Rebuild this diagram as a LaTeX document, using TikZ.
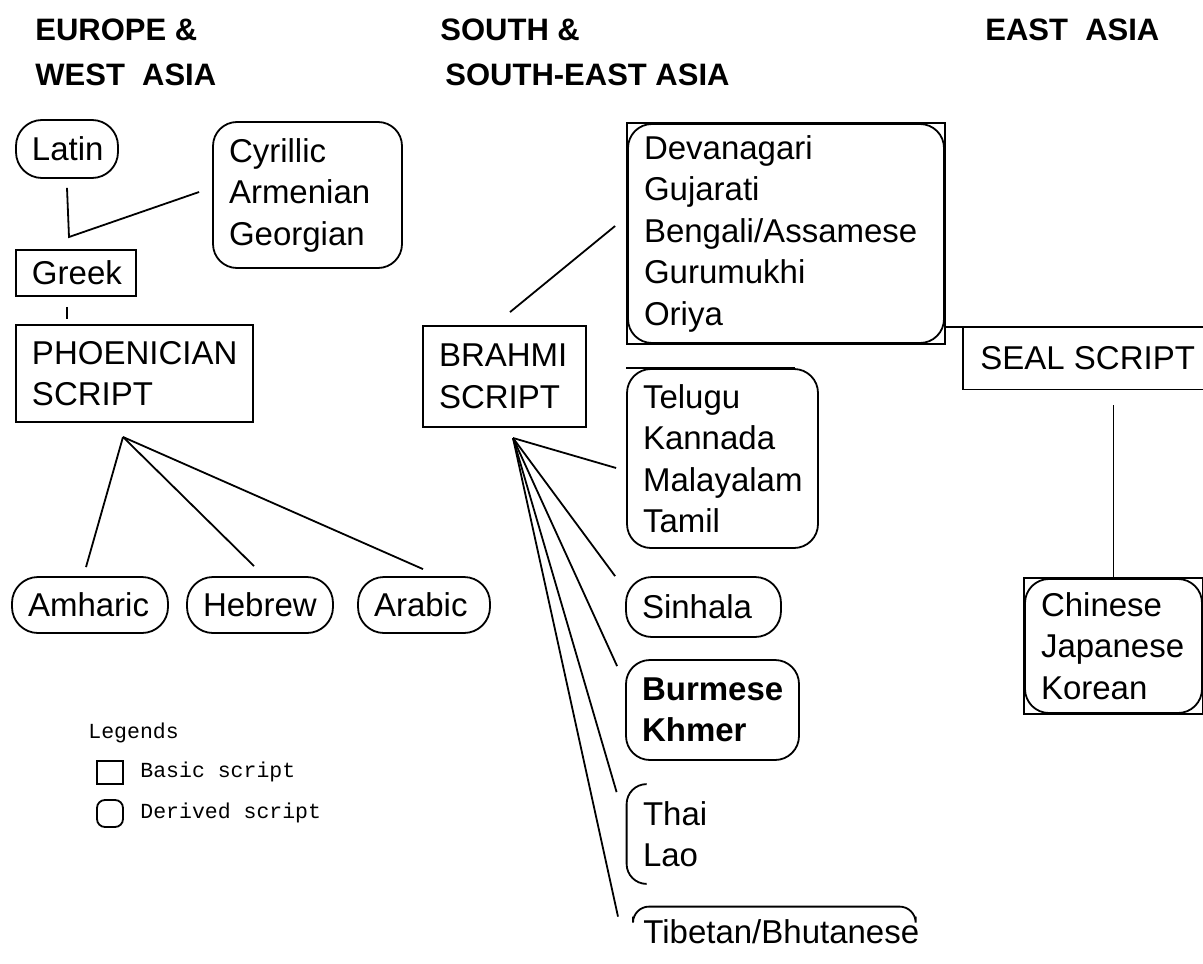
\documentclass[tikz,border=0pt]{standalone}
\usepackage{fontspec}
\setmainfont{Liberation Sans}
\setmonofont{Liberation Mono}
\usetikzlibrary{positioning}
\tikzstyle{basic}=[draw,rectangle,line width=0.9pt,inner xsep=8pt,align=left]
\tikzstyle{derived}=[draw,rectangle,rounded corners=10pt,line width=0.9pt,inner xsep=8pt,align=left]
\tikzstyle{pill}=[derived,rounded corners=13pt]
\tikzstyle{plain}=[inner xsep=8pt,align=left]
\tikzstyle{link}=[line width=0.9pt]
\tikzstyle{region}=[font=\fontsize{15.5}{19}\selectfont\bfseries,anchor=west,inner sep=0pt]
\tikzstyle{keytext}=[font=\ttfamily\fontsize{10.75}{13}\selectfont,anchor=west,inner sep=0pt]

\begin{document}
\begin{tikzpicture}[x=0.5pt,y=-0.5pt,font=\fontsize{16.5}{20.75}\selectfont]
\useasboundingbox (0,0) rectangle (1203,963);

% regions
\node[region] (eu1) at (35,30) {EUROPE \&};
\node[region] (eu2) at (35,75) {WEST\ \ ASIA};
\node[region] (sa1) at (440,30) {SOUTH \&};
\node[region] (sa2) at (445,75) {SOUTH-EAST ASIA};
\node[region] (ea1) at (985,30) {EAST\ \ ASIA};

% europe and west asia
\node[pill,text width=35pt,minimum height=29pt] (latin) at (67,149) {Latin};
\node[derived,rounded corners=12pt,text width=78.5pt,minimum height=73pt] (cyr) at (307.5,195) {Cyrillic\\Armenian\\Georgian};
\node[basic,text width=44pt,minimum height=23pt] (greek) at (76,273) {Greek};
\node[basic,text width=102.5pt,minimum height=48.5pt] (phoen) at (134.5,373.5) {PHOENICIAN\\SCRIPT};
\node[pill,text width=62pt,minimum height=28pt] (amharic) at (90,605) {Amharic};
\node[pill,text width=57pt,minimum height=28pt] (hebrew) at (260,605) {Hebrew};
\node[pill,text width=50pt,minimum height=28pt] (arabic) at (424,605) {Arabic};

\coordinate (join) at (69,237);
\coordinate (proot) at (123,437);
\draw[link] ([yshift=-4.5pt]latin.south) -- (join) -- ([xshift=-6.5pt,yshift=1.5pt]cyr.west);
\draw[link] ([xshift=-4.5pt,yshift=-5pt]greek.south) -- ([xshift=-4.5pt,yshift=-11pt]greek.south);
\draw[link] (proot) -- ([xshift=-2pt,yshift=4.5pt]amharic.north);
\draw[link] (proot) -- ([xshift=-3pt,yshift=5pt]hebrew.north);
\draw[link] (proot) -- ([xshift=-0.5pt,yshift=3.5pt]arabic.north);

% south and south-east asia
\node[basic,text width=65.5pt,minimum height=50.5pt] (brahmi) at (504.5,376.5) {BRAHMI\\SCRIPT};
\node[derived,rounded corners=12pt,text width=142pt,minimum height=109.5pt] (deva) at (786,233.5) {Devanagari\\Gujarati\\Bengali/Assamese\\Gurumukhi\\Oriya};
\draw[line width=1.3pt] (deva.south west) rectangle (deva.north east);
\node[derived,rounded corners=12pt,text width=79.5pt,minimum height=89.5pt] (telugu) at (722.5,458.5) {Telugu\\Kannada\\Malayalam\\Tamil};
\draw[line width=1.3pt] (telugu.north west) -- ([xshift=-12pt]telugu.north east);
\node[pill,text width=61.5pt,minimum height=30pt] (sinhala) at (703.5,607) {Sinhala};
\node[derived,rounded corners=12pt,text width=70.5pt,minimum height=50pt,font=\fontsize{16.5}{20.75}\selectfont\bfseries] (burmese) at (712.5,710) {Burmese\\Khmer};
\node[plain,text width=44pt,minimum height=49.5pt] (thai) at (687,834) {Thai\\Lao};
\draw[link,rounded corners=10pt] ([xshift=10pt]thai.north west) -- (thai.north west) -- (thai.south west) -- ([xshift=10pt]thai.south west);
\node[plain,anchor=west,minimum height=25pt] (tibet) at (627,932) {Tibetan/Bhutanese};
\draw[link,rounded corners=8pt] ([xshift=3pt,yshift=-5pt]tibet.north west) -- ([xshift=3pt]tibet.north west) -- ([xshift=-10pt]tibet.north east) -- ([xshift=-10pt,yshift=-5pt]tibet.north east);

\coordinate (broot) at (513,438);
\draw[link] ([xshift=2.75pt,yshift=6.5pt]brahmi.north) -- ([xshift=-6pt,yshift=3.75pt]deva.west);
\draw[link] (broot) -- ([xshift=-5pt,yshift=-4.75pt]telugu.west);
\draw[link] (broot) -- ([xshift=-5pt]sinhala.north west);
\draw[link] (broot) -- ([xshift=-4pt,yshift=-3.5pt]burmese.north west);
\draw[link] (broot) -- ([xshift=-5pt,yshift=-4pt]thai.north west);
\draw[link] (broot) -- ([xshift=-4.5pt,yshift=-5pt]tibet.north west);

% east asia
\node[plain,anchor=west,minimum height=31pt,inner xsep=8.5pt] (seal) at (963,358) {SEAL SCRIPT};
\draw[link] (deva.east |- seal.north) -- ([xshift=10pt]seal.north east);
\draw[link] (seal.north west) -- (seal.south west) -- ([xshift=10pt]seal.south east);
\node[derived,rounded corners=12pt,text width=72.5pt,minimum height=67pt] (chinese) at (1113.5,646) {Chinese\\Japanese\\Korean};
\draw[line width=1.3pt] (chinese.south west) rectangle (chinese.north east);
\draw[link] ([yshift=-8pt]seal.south -| chinese.north) -- (chinese.north);

% legends
\node[keytext] (legend) at (88,733) {Legends};
\node[basic,minimum width=13pt,minimum height=11.5pt,inner sep=0pt] (keybasic) at (110,772.5) {};
\node[keytext] (basictext) at (140,772) {Basic script};
\node[derived,rounded corners=4pt,minimum width=13pt,minimum height=13.5pt,inner sep=0pt] (keyderived) at (110,813.5) {};
\node[keytext] (derivedtext) at (140,813) {Derived script};
\end{tikzpicture}
\end{document}
